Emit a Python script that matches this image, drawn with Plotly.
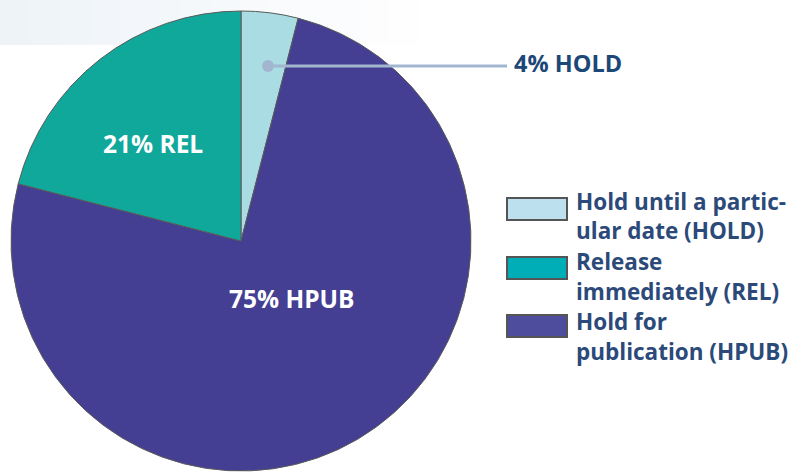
import plotly.graph_objects as go

# ---- data ----
codes = ["HOLD", "HPUB", "REL"]
percents = [4, 75, 21]
slice_colors = ["#a9dde3", "#443f93", "#11a89c"]
legend_order = ["HOLD", "REL", "HPUB"]
legend_lines = {
    "HOLD": ["Hold until a partic-", "ular date (HOLD)"],
    "REL": ["Release", "immediately (REL)"],
    "HPUB": ["Hold for", "publication (HPUB)"],
}
legend_colors = {"HOLD": "#bde0ef", "REL": "#00aeb8", "HPUB": "#4e4c9c"}

W, H = 801, 472
FONT = "Open Sans"
TXT = "#2b4a7a"


def px(x):
    return x / W


def py(y):
    return 1 - y / H


fig = go.Figure()

cx, cy, r = 241, 241, 230
fig.add_trace(go.Pie(
    labels=codes, values=percents, sort=False, direction="clockwise", rotation=0,
    marker=dict(colors=slice_colors, line=dict(color="#5a5a5a", width=1)),
    textinfo="none", hoverinfo="label+percent", showlegend=False,
    domain=dict(x=[px(cx - r), px(cx + r)], y=[py(cy + r), py(cy - r)]),
))

shapes = []
# faint gradient band at top-left
steps = 14
for i in range(steps):
    x0 = 0 + i * 30
    op = max(0.0, 1 - i / steps)
    shapes.append(dict(type="rect", xref="paper", yref="paper",
                       x0=px(x0), x1=px(x0 + 30), y0=py(45), y1=1,
                       fillcolor="#eef3f8", opacity=op, line=dict(width=0), layer="below"))

# leader line for HOLD
shapes.append(dict(type="line", xref="paper", yref="paper", x0=px(268), x1=px(507),
                   y0=py(66), y1=py(66), line=dict(color="#a3b6cf", width=3)))
shapes.append(dict(type="circle", xref="paper", yref="paper", x0=px(262), x1=px(274),
                   y0=py(72), y1=py(60), fillcolor="#a3b6cf", line=dict(width=0)))

annotations = []
pct = dict(zip(codes, percents))
annotations.append(dict(x=px(512), y=py(63), xref="paper", yref="paper", xanchor="left",
                        yanchor="middle", showarrow=False,
                        text=f"<b>{pct['HOLD']}% HOLD</b>",
                        font=dict(family=FONT, size=23.5, color="#1c4877")))
annotations.append(dict(x=px(153), y=py(143), xref="paper", yref="paper", showarrow=False,
                        xanchor="center", yanchor="middle",
                        text=f"<b>{pct['REL']}% REL</b>",
                        font=dict(family=FONT, size=24.5, color="white")))
annotations.append(dict(x=px(292), y=py(298), xref="paper", yref="paper", showarrow=False,
                        xanchor="center", yanchor="middle",
                        text=f"<b>{pct['HPUB']}% HPUB</b>",
                        font=dict(family=FONT, size=24.5, color="white")))

# custom legend
box_tops = [198, 257, 315]
line_y = [[201, 231], [261, 291], [321, 351]]
for k, code in enumerate(legend_order):
    t = box_tops[k]
    shapes.append(dict(type="rect", xref="paper", yref="paper", x0=px(507), x1=px(567),
                       y0=py(t + 22), y1=py(t), fillcolor=legend_colors[code],
                       line=dict(color="#555555", width=2)))
    for j, ln in enumerate(legend_lines[code]):
        annotations.append(dict(x=px(574), y=py(line_y[k][j]), xref="paper", yref="paper",
                                xanchor="left", yanchor="middle", showarrow=False,
                                text=f"<b>{ln}</b>",
                                font=dict(family=FONT, size=22.5, color=TXT)))

fig.update_layout(width=W, height=H, margin=dict(l=0, r=0, t=0, b=0),
                  paper_bgcolor="white", plot_bgcolor="white",
                  shapes=shapes, annotations=annotations)
fig.write_html("out.html", config={"displayModeBar": False},
               post_script="document.body.style.margin='0';")
